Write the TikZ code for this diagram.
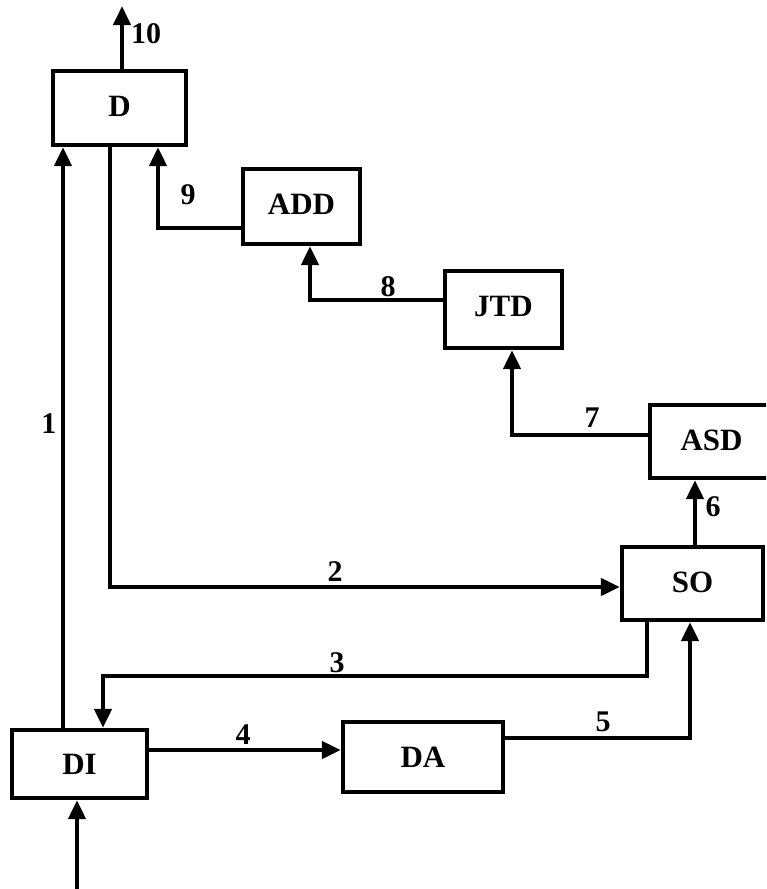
\documentclass[tikz,border=0pt]{standalone}
\usepackage{fontspec}
\setmainfont{Liberation Serif}
\usetikzlibrary{arrows.meta}
\begin{document}
\begin{tikzpicture}[x=1pt,y=-1pt,
  blk/.style={draw,line width=4.3pt,rectangle,inner sep=0pt,font=\bfseries\fontsize{31}{34}\selectfont},
  conn/.style={line width=4.3pt,line join=miter},
  arr/.style={conn,-{Triangle[length=19pt,width=17pt]}},
  lbl/.style={font=\bfseries\fontsize{30}{34}\selectfont,inner sep=0pt}]
\clip (0,0) rectangle (766,889);
\fill[white] (0,0) rectangle (766,889);
% blocks
\node[blk,minimum width=133pt,minimum height=74pt] (D) at (119.5,108) {\raisebox{4pt}{D}};
\node[blk,minimum width=117pt,minimum height=75pt] (ADD) at (301.5,206.5) {\raisebox{4pt}{ADD}};
\node[blk,minimum width=117pt,minimum height=77pt] (JTD) at (503.5,309.5) {\raisebox{6pt}{JTD}};
\node[blk,minimum width=135pt,minimum height=73pt] (ASD) at (717.5,441.5) {\hspace*{-12pt}\raisebox{3pt}{ASD}};
\node[blk,minimum width=141pt,minimum height=73pt] (SO) at (692.5,583.5) {\raisebox{3pt}{SO}};
\node[blk,minimum width=135pt,minimum height=68pt] (DI) at (79.5,764) {DI};
\node[blk,minimum width=160pt,minimum height=70pt] (DA) at (423,757) {DA};
\coordinate (out) at (122,6);
\coordinate (in) at (77,895);
% connectors
\draw[arr] (D.north -| out) -- (out);
\draw[arr] (DI.north -| 63,0) -- (D.south -| 63,0);
\draw[arr] (D.south -| 110,0) -- (110,587) -- (SO.west |- 0,587);
\draw[arr] (SO.south -| 647,0) -- (647,676) -- (103,676) -- (DI.north -| 103,0);
\draw[arr] (DI.east |- 0,750) -- (DA.west |- 0,750);
\draw[arr] (DA.east |- 0,738) -- (690,738) -- (SO.south -| 690,0);
\draw[arr] (SO.north -| 695,0) -- (ASD.south -| 695,0);
\draw[arr] (ASD.west |- 0,435) -- (512,435) -- (JTD.south -| 512,0);
\draw[arr] (JTD.west |- 0,300) -- (310,300) -- (ADD.south -| 310,0);
\draw[arr] (ADD.west |- 0,228) -- (158,228) -- (D.south -| 158,0);
\draw[arr] (in) -- (DI.south -| in);
% labels
\node[lbl] (l10) at (146,34) {10};
\node[lbl] (l1) at (49,424) {1};
\node[lbl] (l2) at (335,572) {2};
\node[lbl] (l3) at (337,663) {3};
\node[lbl] (l4) at (243,735) {4};
\node[lbl] (l5) at (603,722) {5};
\node[lbl] (l6) at (713,507) {6};
\node[lbl] (l7) at (592,418) {7};
\node[lbl] (l8) at (388,287) {8};
\node[lbl] (l9) at (188,195) {9};
\end{tikzpicture}
\end{document}
